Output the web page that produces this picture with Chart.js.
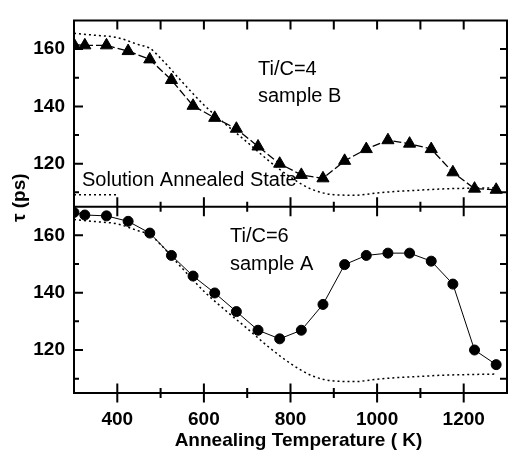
<!DOCTYPE html>
<html>
<head>
<meta charset="utf-8">
<script src="https://cdn.jsdelivr.net/npm/chart.js@4.4.0/dist/chart.umd.min.js"></script>
<style>
  html, body { margin: 0; padding: 0; background: #fff; }
  #wrap { width: 515px; height: 452px; }
</style>
</head>
<body>
<div id="wrap"><canvas id="tauChart"></canvas></div>
<script>
// annealing temperatures (K) of the measured points
const temps = [300, 325, 375, 425, 475, 525, 575, 625, 675, 725, 775, 825, 875, 925, 975, 1025, 1075, 1125, 1175, 1225, 1275];
// Ti/C=4, sample B (upper panel, triangles)
const tauB = [161.5, 161.3, 161.3, 159.3, 156.4, 149.2, 140.2, 136.0, 132.2, 126.0, 120.0, 116.1, 114.9, 121.0, 125.1, 128.2, 127.0, 125.1, 117.0, 111.3, 110.9];
// Ti/C=6, sample A (lower panel, circles)
const tauA = [168.0, 167.1, 166.8, 164.9, 160.8, 153.0, 145.8, 139.9, 133.4, 126.9, 123.9, 126.9, 135.9, 149.8, 153.0, 153.8, 153.8, 151.0, 143.0, 120.0, 114.9];
// solution annealed state (dotted, both panels)
const refTemps = [300, 350, 400, 450, 475, 500, 550, 600, 650, 700, 750, 800, 850, 900, 950, 1000, 1050, 1100, 1150, 1200, 1275];
const refTau = [165.5, 164.8, 164.0, 161.5, 160.3, 156.8, 148.5, 140.5, 133.8, 127.5, 121.0, 115.3, 111.0, 109.2, 109.0, 109.8, 110.4, 110.8, 111.2, 111.4, 111.6];
// short key line next to the "Solution Annealed State" label
const keyTemps = [300, 400];
const keyTau = [109.2, 109.2];

// tick values
const xMajor = [400, 600, 800, 1000, 1200];
const xMinor = [500, 700, 900, 1100];
const yMajor = [120, 140, 160];
const yMinor = [110, 130, 150];

const toPts = (xs, ys) => xs.map((x, i) => ({ x: x, y: ys[i] }));

const FONT = '"Liberation Sans", Arial, sans-serif';

const framePlugin = {
  id: 'frame',
  beforeDatasetsDraw(chart) {
    const ctx = chart.ctx;
    const top = chart.scales.yTop, bot = chart.scales.yBot;
    const l = chart.chartArea.left;
    ctx.save();
    ctx.fillStyle = '#000';
    ctx.font = '20px ' + FONT;
    ctx.textAlign = 'left';
    ctx.textBaseline = 'alphabetic';
    ctx.fillText('Ti/C=4', l + 184, top.top + 55);
    ctx.fillText('sample B', l + 184, top.top + 82);
    ctx.fillText('Solution Annealed State', l + 8, top.top + 166);
    ctx.fillText('Ti/C=6', l + 156, bot.top + 35);
    ctx.fillText('sample A', l + 156, bot.top + 63.4);
    ctx.restore();
  },
  afterDraw(chart) {
    const ctx = chart.ctx;
    const x = chart.scales.x;
    const panels = [chart.scales.yTop, chart.scales.yBot];
    const l = chart.chartArea.left, r = chart.chartArea.right;
    ctx.save();
    ctx.strokeStyle = '#000';
    ctx.lineWidth = 2;
    ctx.lineCap = 'butt';
    ctx.beginPath();
    panels.forEach(p => {
      ctx.rect(l, p.top, r - l, p.bottom - p.top);
      // left / right ticks (inside)
      yMajor.forEach(v => {
        const py = p.getPixelForValue(v);
        ctx.moveTo(l, py); ctx.lineTo(l + 9, py);
        ctx.moveTo(r, py); ctx.lineTo(r - 7, py);
      });
      yMinor.forEach(v => {
        const py = p.getPixelForValue(v);
        ctx.moveTo(l, py); ctx.lineTo(l + 5, py);
        ctx.moveTo(r, py); ctx.lineTo(r - 7, py);
      });
    });
    const topY = panels[0].top, midY = panels[0].bottom, botY = panels[1].bottom;
    xMajor.forEach(v => {
      const px = x.getPixelForValue(v);
      ctx.moveTo(px, topY); ctx.lineTo(px, topY + 9);
      ctx.moveTo(px, midY - 9.5); ctx.lineTo(px, midY + 9.5);
      ctx.moveTo(px, botY - 9.5); ctx.lineTo(px, botY + 9.5);
    });
    xMinor.forEach(v => {
      const px = x.getPixelForValue(v);
      ctx.moveTo(px, topY); ctx.lineTo(px, topY + 9);
      ctx.moveTo(px, midY - 5); ctx.lineTo(px, midY + 5);
      ctx.moveTo(px, botY - 5); ctx.lineTo(px, botY + 5);
    });
    ctx.stroke();

    // axis titles
    ctx.fillStyle = '#000';
    ctx.font = 'bold 19px ' + FONT;
    ctx.textAlign = 'center';
    ctx.textBaseline = 'alphabetic';
    ctx.fillText('Annealing Temperature ( K)', (l + r) / 2 + 8, 446);
    ctx.translate(20, (topY + botY) / 2 - 9);
    ctx.rotate(-Math.PI / 2);
    ctx.textBaseline = 'middle';
    ctx.fillText('\u03C4 (ps)', 0, 0);
    ctx.restore();
  }
};

const tickFont = { family: FONT, size: 19, weight: 'bold' };

const yAxis = (weight) => ({
  type: 'linear',
  position: 'left',
  stack: 'tau',
  stackWeight: 1,
  weight: weight,
  min: 105,
  max: 170,
  grid: { display: false, drawTicks: false },
  border: { display: false },
  ticks: { color: '#000', font: tickFont, padding: 9, callback: v => String(v) },
  afterBuildTicks: s => { s.ticks = yMajor.map(v => ({ value: v })); },
  afterFit: s => { s.width = 74; }
});

new Chart(document.getElementById('tauChart'), {
  type: 'line',
  data: {
    datasets: [
      {
        label: 'Ti/C=4 sample B',
        data: toPts(temps, tauB),
        xAxisID: 'x', yAxisID: 'yTop',
        borderColor: '#000', backgroundColor: '#000',
        borderWidth: 1.3, borderDash: [8, 3],
        pointStyle: 'triangle', pointRadius: 7, pointBorderWidth: 1,
        tension: 0
      },
      {
        label: 'Solution annealed (upper)',
        data: toPts(refTemps, refTau),
        xAxisID: 'x', yAxisID: 'yTop',
        borderColor: '#000', borderWidth: 1.5, borderDash: [2, 3],
        pointRadius: 0, cubicInterpolationMode: 'monotone'
      },
      {
        label: 'key',
        data: toPts(keyTemps, keyTau),
        xAxisID: 'x', yAxisID: 'yTop',
        borderColor: '#000', borderWidth: 1.5, borderDash: [2, 3],
        pointRadius: 0
      },
      {
        label: 'Ti/C=6 sample A',
        data: toPts(temps, tauA),
        xAxisID: 'x', yAxisID: 'yBot',
        borderColor: '#000', backgroundColor: '#000',
        borderWidth: 1,
        pointStyle: 'circle', pointRadius: 5, pointBorderWidth: 1,
        tension: 0
      },
      {
        label: 'Solution annealed (lower)',
        data: toPts(refTemps, refTau),
        xAxisID: 'x', yAxisID: 'yBot',
        borderColor: '#000', borderWidth: 1.5, borderDash: [2, 3],
        pointRadius: 0, cubicInterpolationMode: 'monotone'
      }
    ]
  },
  options: {
    responsive: true,
    maintainAspectRatio: false,
    animation: false,
    layout: { padding: { top: 13, right: 3, left: 0, bottom: 0 } },
    plugins: { legend: { display: false }, tooltip: { enabled: false } },
    scales: {
      x: {
        type: 'linear',
        position: 'bottom',
        min: 300,
        max: 1300,
        grid: { display: false, drawTicks: false },
        border: { display: false },
        ticks: { color: '#000', font: tickFont, padding: 15, maxRotation: 0, callback: v => String(v) },
        afterBuildTicks: s => { s.ticks = xMajor.map(v => ({ value: v })); },
        afterFit: s => { s.height = 59; }
      },
      yBot: yAxis(0),
      yTop: yAxis(1)
    }
  },
  plugins: [framePlugin]
});
</script>
</body>
</html>
